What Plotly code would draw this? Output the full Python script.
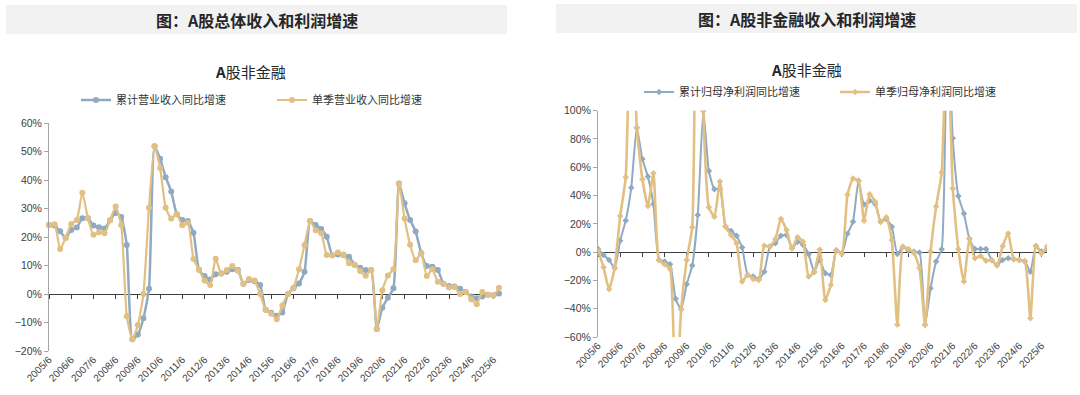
import plotly.graph_objects as go

# ---------------- data ----------------
quarters = []
y, m = 2005, 6
for _ in range(82):
    quarters.append(f"{y}/{m}")
    m += 3
    if m > 12:
        m -= 12
        y += 1
tick_labels = quarters[::4]

rev_cum = [24.2, 24.0, 22.0, 19.7, 22.5, 23.3, 26.6, 26.6, 24.0, 23.4,
           23.0, 25.9, 28.4, 27.0, 17.2, -15.9, -14.2, -8.5, 1.8, 51.8,
           47.5, 41.0, 36.0, 28.0, 26.0, 25.6, 21.5, 8.5, 6.3, 5.1,
           6.9, 7.2, 7.8, 8.7, 8.4, 3.6, 4.9, 4.5, 3.2, -5.5,
           -6.6, -7.6, -6.5, 0.0, 2.0, 3.7, 7.8, 25.6, 24.2, 22.8,
           20.1, 13.6, 13.9, 13.7, 13.1, 10.3, 9.2, 8.4, 8.4, -12.3,
           -4.8, -1.3, 2.0, 38.8, 31.8, 26.0, 21.9, 14.3, 9.8, 9.6,
           8.4, 3.6, 2.8, 2.6, 1.8, 0.7, -0.9, -1.5, -0.9, -0.3,
           -0.4, 0.2]
rev_q = [24.2, 24.5, 15.8, 19.7, 24.6, 26.0, 35.5, 26.6, 20.8, 21.7,
         21.3, 25.9, 30.7, 24.2, -7.8, -15.9, -10.9, 0.0, 30.3, 51.8,
         44.2, 30.3, 26.5, 28.0, 24.1, 25.0, 12.3, 8.5, 4.7, 3.2,
         12.4, 7.2, 8.4, 9.8, 8.2, 3.6, 5.3, 4.7, 0.0, -5.5,
         -6.9, -8.9, -4.0, 0.0, 2.2, 8.7, 17.2, 25.6, 22.4, 21.3,
         13.7, 13.6, 14.6, 13.9, 10.8, 10.3, 8.1, 6.4, 8.4, -12.3,
         1.3, 6.5, 8.7, 38.8, 26.5, 17.3, 11.8, 14.3, 6.3, 8.7,
         4.3, 3.6, 2.3, 2.5, 0.0, 0.7, -1.8, -3.6, 0.7, -0.3,
         -0.5, 2.2]

np_cum = [2.3, -2.0, -5.5, -11.2, 8.1, 22.3, 45.6, 88.0, 65.9, 53.4,
          34.0, -5.5, -6.7, -8.6, -33.0, -40.4, -22.7, -9.5, 26.3, 100.0,
          57.4, 44.4, 44.9, 18.1, 15.0, 11.5, 3.2, -16.1, -17.3, -19.0,
          -13.8, 3.9, 6.3, 11.5, 12.2, 2.7, 7.4, 5.1, -1.5, -14.0,
          -5.5, -15.0, -16.1, 1.3, -1.0, 13.0, 21.5, 50.5, 33.6, 36.3,
          34.0, 21.5, 23.5, 18.0, -1.4, 3.8, 1.1, 0.2, -0.3, -51.4,
          -25.6, -6.7, 2.0, 170.0, 80.5, 39.7, 27.4, 9.5, 2.3, 2.3,
          2.3, -5.5, -9.3, -5.5, -4.3, -5.0, -5.5, -6.7, -13.8, 4.4,
          0.4, 2.0]
np_q = [1.1, -10.7, -26.3, -11.2, 25.6, 52.9, 200.0, 88.0, 51.5, 32.6,
        55.7, -5.5, -8.6, -11.9, -115.0, -40.4, -5.5, 17.6, 400.0, 100.0,
        31.7, 25.1, 49.9, 18.1, 12.1, 6.2, -20.8, -16.1, -19.0, -19.7,
        4.6, 3.9, 9.3, 23.5, 15.7, 2.7, 10.5, 7.4, -17.3, -14.0,
        1.6, -33.8, -23.2, 1.3, -1.0, 40.6, 52.0, 50.5, 22.2, 41.0,
        35.7, 21.5, 24.6, 8.6, -51.4, 3.8, 2.2, -0.6, -11.2, -51.4,
        0.5, 32.2, 56.3, 170.0, 45.0, 2.0, -20.7, 9.5, -4.4, -2.8,
        -6.1, -5.5, -9.3, 4.2, 13.1, -5.0, -5.5, -6.3, -46.8, 4.4,
        -1.0, 3.9]

BLUE = "#8FAAC1"
GOLD = "#E2BF82"
W, H = 1080, 395
CJK = "Noto Sans CJK SC"
LAT = "Liberation Sans, Arial, sans-serif"

def px(v):
    return v / W

def py(v):
    return 1 - v / H

fig = go.Figure()

fig.add_trace(go.Scatter(x=quarters, y=rev_cum, name="累计营业收入同比增速",
                         mode="lines+markers", xaxis="x", yaxis="y",
                         line=dict(color=BLUE, width=2.5, shape="spline", smoothing=0.5),
                         marker=dict(symbol="circle", size=6, color=BLUE),
                         cliponaxis=False, legend="legend"))
fig.add_trace(go.Scatter(x=quarters, y=rev_q, name="单季营业收入同比增速",
                         mode="lines+markers", xaxis="x", yaxis="y",
                         line=dict(color=GOLD, width=2.2, shape="spline", smoothing=0.5),
                         marker=dict(symbol="circle", size=6, color=GOLD),
                         cliponaxis=False, legend="legend"))
fig.add_trace(go.Scatter(x=quarters, y=np_cum, name="累计归母净利润同比增速",
                         mode="lines+markers", xaxis="x2", yaxis="y2",
                         line=dict(color=BLUE, width=2, shape="spline", smoothing=0.5),
                         marker=dict(symbol="diamond", size=5, color=BLUE),
                         legend="legend2"))
fig.add_trace(go.Scatter(x=quarters, y=np_q, name="单季归母净利润同比增速",
                         mode="lines+markers", xaxis="x2", yaxis="y2",
                         line=dict(color=GOLD, width=2.6, shape="spline", smoothing=0.5),
                         marker=dict(symbol="diamond", size=5, color=GOLD),
                         legend="legend2"))
fig.add_trace(go.Scatter(x=[], y=[], xaxis="x3", yaxis="y", showlegend=False, hoverinfo="skip"))
fig.add_trace(go.Scatter(x=[], y=[], xaxis="x4", yaxis="y2", showlegend=False, hoverinfo="skip"))

n = len(quarters)
xr = [0, n - 1]
tick_idx = list(range(0, n, 4))

L_dom = [px(49), px(499)]
R_dom = [px(598), px(1047)]
L_ydom = [py(351), py(123)]
R_ydom = [py(337), py(110.7)]

tickfont = dict(family=LAT, size=10.5, color="#404040")

def base_x(domain, anchor):
    return dict(domain=domain, anchor=anchor, type="category", range=xr,
                tickmode="array", tickvals=tick_labels, ticktext=tick_labels,
                tickangle=-45, showline=False, ticks="", showgrid=False,
                zeroline=False, tickfont=dict(family=LAT, size=10, color="#404040"),
                automargin=False)

def zero_x(overlay, pos):
    return dict(overlaying=overlay, anchor="free", position=pos, type="linear",
                range=xr, tickmode="array", tickvals=tick_idx, ticks="outside",
                ticklen=4, tickcolor="#404040", showticklabels=False, showline=True,
                linecolor="#404040", linewidth=1.3, showgrid=False, zeroline=False,
                layer="below traces", automargin=False)

def base_y(domain, anchor, rng, dt):
    return dict(domain=domain, anchor=anchor, range=rng, dtick=dt, tick0=0,
                ticksuffix="%", showline=True, linecolor="#A6A6A6", linewidth=1,
                ticks="outside", ticklen=4, tickcolor="#A6A6A6", showgrid=False,
                zeroline=False, tickfont=tickfont, automargin=False)

L_zero = L_ydom[0] + (L_ydom[1] - L_ydom[0]) * (0 - (-20)) / 80
R_zero = R_ydom[0] + (R_ydom[1] - R_ydom[0]) * (0 - (-60)) / 160

legfont = dict(family=CJK, size=11, color="#333333")

def ann(text, x, y, size):
    return dict(text=text, x=px(x), y=py(y), xref="paper", yref="paper",
                xanchor="center", yanchor="middle", showarrow=False,
                font=dict(family=CJK, size=size, color="#262626"))

fig.update_layout(
    width=W, height=H, margin=dict(l=0, r=0, t=0, b=0, pad=0, autoexpand=False),
    autosize=False,
    paper_bgcolor="white", plot_bgcolor="white",
    xaxis=base_x(L_dom, "y"),
    xaxis2=base_x(R_dom, "y2"),
    xaxis3=zero_x("x", L_zero),
    xaxis4=zero_x("x2", R_zero),
    yaxis=base_y(L_ydom, "x", [-20, 60], 10),
    yaxis2=base_y(R_ydom, "x2", [-60, 100], 20),
    legend=dict(orientation="h", x=px(76), y=py(100), xanchor="left", yanchor="middle",
                entrywidth=151, entrywidthmode="pixels", font=legfont,
                bgcolor="rgba(0,0,0,0)"),
    legend2=dict(orientation="h", x=px(639), y=py(92), xanchor="left", yanchor="middle",
                 entrywidth=151, entrywidthmode="pixels", font=legfont,
                 bgcolor="rgba(0,0,0,0)"),
    shapes=[
        dict(type="rect", xref="paper", yref="paper", x0=px(6), x1=px(507),
             y0=py(34), y1=py(5), fillcolor="#F2F2F2", line=dict(width=0), layer="below"),
        dict(type="rect", xref="paper", yref="paper", x0=px(556), x1=px(1077),
             y0=py(33), y1=py(4), fillcolor="#F2F2F2", line=dict(width=0), layer="below"),
    ],
    annotations=[
        ann("<b>图：A股总体收入和利润增速</b>", 257, 20, 16),
        ann("<b>图：A股非金融收入和利润增速</b>", 807, 19, 16),
        ann("<b>A</b>股非金融", 250, 72, 15),
        ann("<b>A</b>股非金融", 806, 69, 15),
    ],
    showlegend=True,
)

fig.write_html("out.html", config={"displayModeBar": False},
               post_script="document.body.style.margin='0px';")
